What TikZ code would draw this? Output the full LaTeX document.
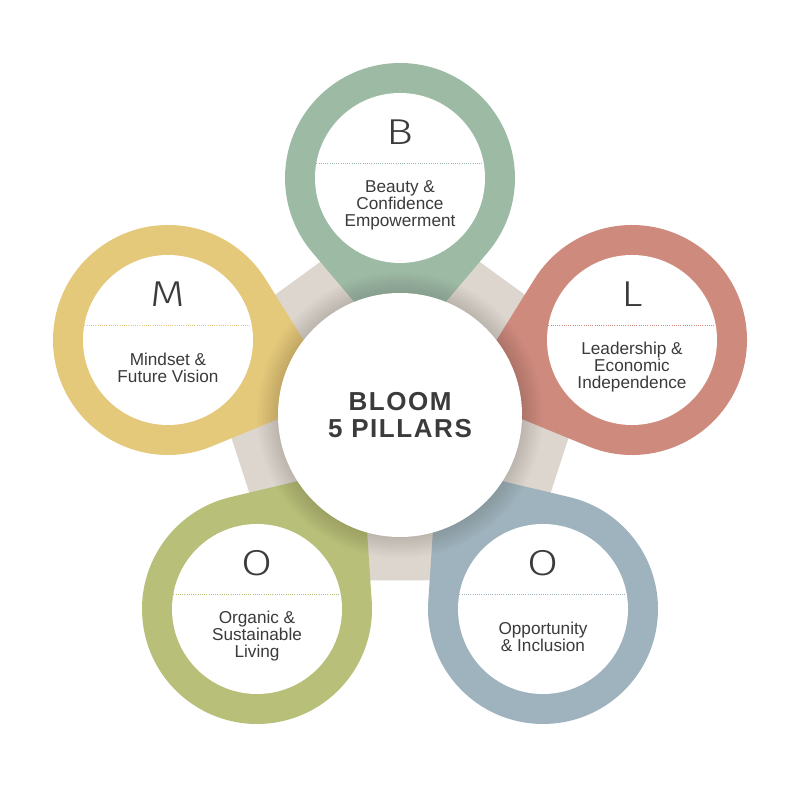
\documentclass[tikz,border=0pt]{standalone}
\usepackage{fontspec}
\setmainfont{Liberation Sans}
\newfontfamily\lightfont[FakeStretch=1.25]{Fira Sans Light}
\usetikzlibrary{calc,shapes.geometric}
\definecolor{cB}{HTML}{9DBBA4}
\definecolor{cL}{HTML}{CF8A7E}
\definecolor{cM}{HTML}{E4C97B}
\definecolor{cOL}{HTML}{B8BF78}
\definecolor{cOR}{HTML}{9EB3BD}
\definecolor{beige}{HTML}{DDD6CE}
\definecolor{txt}{HTML}{3B3B3B}
\newcommand\petal[3]{%
  \fill[#3] ($(#1)+(#2:178)$) -- ($(#1)+(#2+49.75:115)$)
     arc[start angle=#2+49.75, end angle=#2-49.75+360, radius=115] -- cycle;
}
\newcommand\pillarinner[5]{%
  \fill[white] (#1) circle[radius=85];
  \draw[#2, line width=0.9pt, dash pattern=on 1pt off 1.2pt]
     ($(#1)+(-83.6,15)$) -- ($(#1)+(83.6,15)$);
  \node[bigletter] (#1-letter) at ($(#1)+(0,46)$) {#3};
  \node[pillartext] (#1-text) at ($(#1)+(0,#5)$) {#4};
}
\tikzset{
  bigletter/.style={inner sep=0, text=txt, font=\lightfont\fontsize{36}{36}\selectfont},
  pillartext/.style={inner sep=0, align=center, text=txt, font=\fontsize{17.2}{17}\selectfont},
}
\begin{document}
\begin{tikzpicture}[x=1pt,y=1pt]
\useasboundingbox (0,0) rectangle (800,800);
\fill[white] (0,0) rectangle (800,800);
\coordinate (c) at (400,385);
\coordinate (pB) at (400,622);
\coordinate (pL) at (632,460);
\coordinate (pM) at (168,460);
\coordinate (pOR) at (543,191);
\coordinate (pOL) at (257,191);
% pentagon backdrop
\node[regular polygon, regular polygon sides=5, minimum size=416pt, inner sep=0,
      fill=beige] (penta) at (400,388) {};
% petals
\petal{pB}{270}{cB}
\petal{pL}{197.9}{cL}
\petal{pM}{342.1}{cM}
\petal{pOR}{126.4}{cOR}
\petal{pOL}{53.6}{cOL}
% shadow around the centre
\foreach \r in {123,125,...,143} {\fill[black, opacity=0.012] (c) circle[radius=\r];}
% centre circle
\node[circle, fill=white, minimum size=244pt, inner sep=0] (centre) at (c) {};
\node[align=center, text=txt, inner sep=0,
      font=\bfseries\fontsize{26}{27}\selectfont\addfontfeature{LetterSpace=6}]
      (title) at (400,384.5) {BLOOM\\5 PILLARS};
% pillar contents
\pillarinner{pB}{cB}{B}{Beauty \&\\Confidence\\Empowerment}{-27}
\pillarinner{pL}{cL}{L}{Leadership \&\\Economic\\Independence}{-27}
\pillarinner{pM}{cM}{M}{Mindset \&\\Future Vision}{-28}
\pillarinner{pOR}{cOR}{O}{Opportunity\\\& Inclusion}{-28}
\pillarinner{pOL}{cOL}{O}{Organic \&\\Sustainable\\Living}{-27}
\end{tikzpicture}
\end{document}
